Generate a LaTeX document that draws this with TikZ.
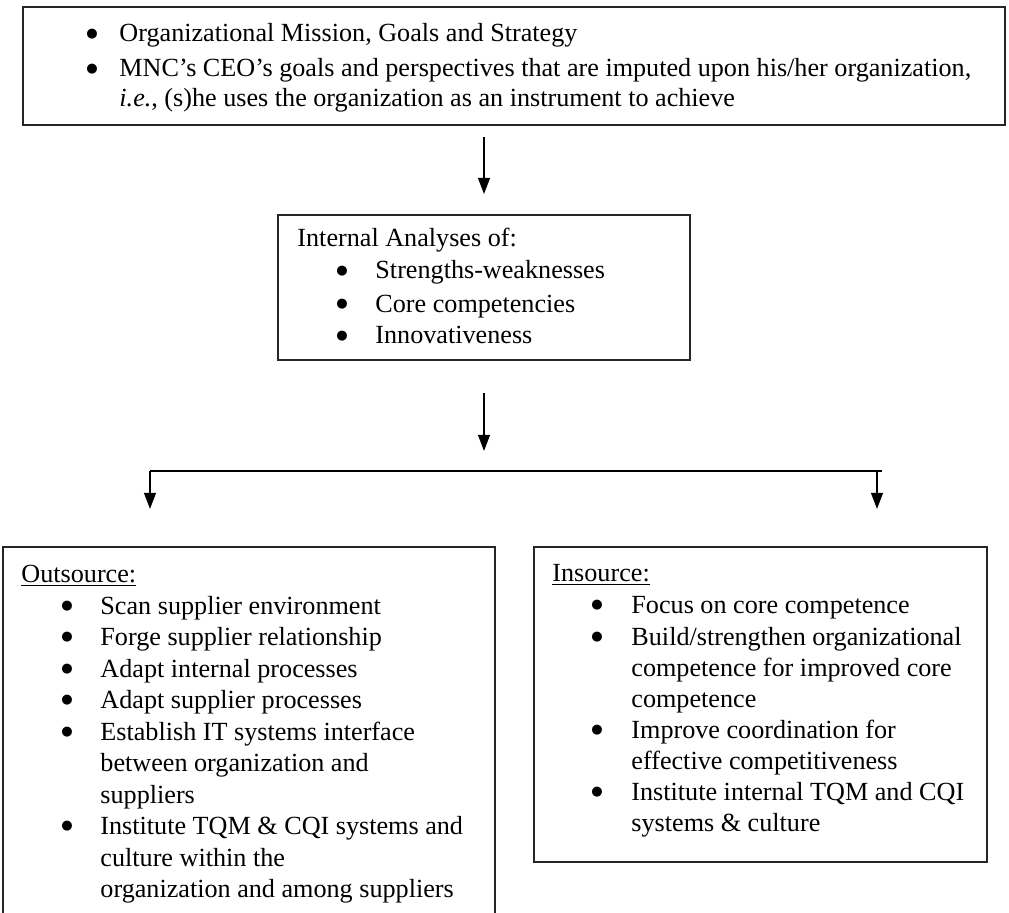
\documentclass[tikz,border=0pt]{standalone}
\usepackage{fontspec}
\setmainfont{Liberation Serif}
\newfontfamily\bulfont{DejaVu Sans}
\usetikzlibrary{arrows.meta}
\def\px{0.4587pt}
\begin{document}
\begin{tikzpicture}[x=0.4587pt,y=-0.4587pt,
  box/.style={draw=black!85,line width=0.85pt,inner sep=0pt},
  txt/.style={anchor=base west,inner sep=0pt,font=\fontsize{12}{14}\selectfont},
  bul/.style={anchor=center,inner sep=0pt,font=\bulfont\fontsize{6}{6}\selectfont},
  arr/.style={line width=0.85pt,-{Triangle[width=5.4pt,length=7.4pt]}},
  conn/.style={line width=0.85pt}]
\useasboundingbox (0,0) rectangle (1009,913);
% boxes
\node[box,minimum width={982*\px},minimum height={118*\px}] (top) at (514,66) {};
\node[box,minimum width={412*\px},minimum height={145*\px}] (mid) at (484,287.5) {};
\node[box,minimum width={492*\px},minimum height={383*\px}] (out) at (249,738.5) {};
\node[box,minimum width={453*\px},minimum height={315*\px}] (ins) at (760.5,704.5) {};
% top box text
\foreach \y [count=\i] in {42,77} \node[bul] (tb\i) at (92,\y-8) {●};
\node[txt] (t1) at (119,42) {Organizational Mission, Goals and Strategy};
\node[txt] (t2) at (119,77) {MNC’s CEO’s goals and perspectives that are imputed upon his/her organization,};
\node[txt] (t3) at (119,107) {\textit{i.e.}, (s)he uses the organization as an instrument to achieve};
% middle box text
\node[txt] (m0) at (297,247) {Internal Analyses of:};
\foreach \y/\t [count=\i] in {279/Strengths-weaknesses,312/Core competencies,344/Innovativeness}{
  \node[bul] (mb\i) at (342,\y-8) {●};
  \node[txt] (m\i) at (375,\y) {\t};
}
% outsource
\node[txt] (o0) at (21,582) {\underline{Outsource:}};
\foreach \y [count=\i] in {614,645,677,708,740,834} \node[bul] (ob\i) at (67,\y-8) {●};
\foreach \y/\t [count=\i] in {614/{Scan supplier environment},645/{Forge supplier relationship},677/{Adapt internal processes},708/{Adapt supplier processes},740/{Establish IT systems interface},771/{between organization and},803/{suppliers},834/{Institute TQM \& CQI systems and},866/{culture within the},897/{organization and among suppliers}}
  \node[txt] (o\i) at (100,\y) {\t};
% insource
\node[txt] (i0) at (552,581) {\underline{Insource:}};
\foreach \y [count=\i] in {613,645,738,800} \node[bul] (ib\i) at (597,\y-8) {●};
\foreach \y/\t [count=\i] in {613/{Focus on core competence},645/{Build/strengthen organizational},676/{competence for improved core},707/{competence},738/{Improve coordination for},769/{effective competitiveness},800/{Institute internal TQM and CQI},831/{systems \& culture}}
  \node[txt] (in\i) at (631,\y) {\t};
% connectors
\coordinate (a1s) at (484,137);
\draw[arr] (a1s) -- ([yshift=20*\px]mid.north);
\coordinate (hl) at (150,471);
\coordinate (hr) at (882,471);
\coordinate (hc) at (484,471);
\coordinate (lt) at (150,509);
\coordinate (rs) at (877,471);
\coordinate (rt) at (877,509);
\draw[arr] ([yshift=-32*\px]mid.south) -- ([yshift=20*\px]hc);
\draw[conn] (hl) -- (hr);
\draw[arr] (hl) -- (lt);
\draw[arr] (rs) -- (rt);
\end{tikzpicture}
\end{document}
